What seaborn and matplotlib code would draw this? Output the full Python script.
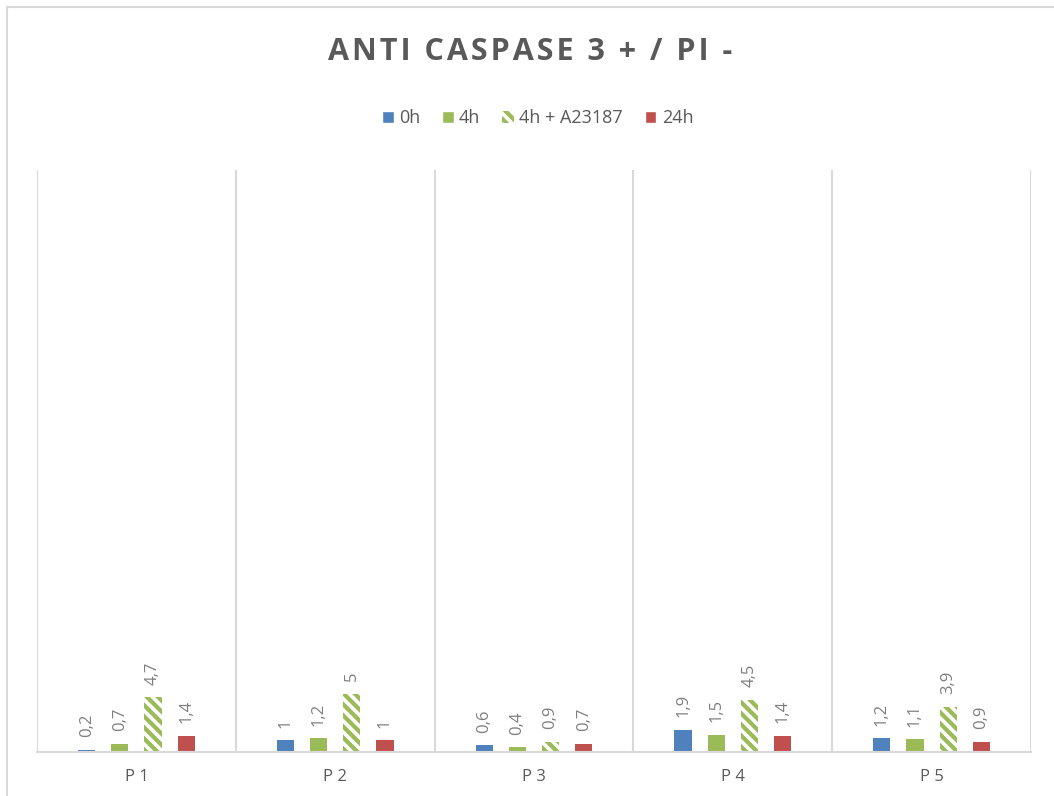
import matplotlib
matplotlib.use("Agg")
import matplotlib.pyplot as plt
import seaborn as sns
import pandas as pd
from matplotlib.patches import Patch, Rectangle

# ── data ─────────────────────────────────────────────────────────────────────
patients = ["P1", "P2", "P3", "P4", "P5"]
series = ["0h", "4h", "4h + A23187", "24h"]
vals_0h = [0.2, 1, 0.6, 1.9, 1.2]
vals_4h = [0.7, 1.2, 0.4, 1.5, 1.1]
vals_4h_a23187 = [4.7, 5, 0.9, 4.5, 3.9]
vals_24h = [1.4, 1, 0.7, 1.4, 0.9]
tick_labels = ["P 1", "P 2", "P 3", "P 4", "P 5"]
title = "ANTI CASPASE 3 + / PI -"

colors = ["#4F81BD", "#9BBB59", "#9BBB59", "#C0504D"]
grey_txt = "#595959"
grey_lbl = "#7F7F7F"
grid_col = "#D9D9D9"

rows = []
for s, vals in zip(series, [vals_0h, vals_4h, vals_4h_a23187, vals_24h]):
    for p, v in zip(patients, vals):
        rows.append({"patient": p, "series": s, "value": v})
df = pd.DataFrame(rows)

# ── plot ─────────────────────────────────────────────────────────────────────
sns.set_style("white")
plt.rcParams["font.family"] = ["Open Sans", "DejaVu Sans"]
plt.rcParams["hatch.linewidth"] = 2.6
plt.rcParams["hatch.color"] = "white"

fig = plt.figure(figsize=(10.54, 7.96), dpi=100)
ax = fig.add_axes([37 / 1054, 44 / 796, 994 / 1054, 582 / 796])

sns.barplot(data=df, x="patient", y="value", hue="series", order=patients,
            hue_order=series, palette=colors, width=0.667, gap=0.48,
            saturation=1, legend=False, ax=ax, linewidth=0)

hatched = ax.containers[2]
for bar in hatched:
    bar.set_hatch("\\\\\\")
    bar.set_edgecolor("white")
    bar.set_linewidth(0)

def fmt(v):
    return (f"{v:g}").replace(".", ",")

for cont, vals in zip(ax.containers, [vals_0h, vals_4h, vals_4h_a23187, vals_24h]):
    ax.bar_label(cont, labels=[fmt(v) for v in vals], rotation=90,
                 padding=9, color=grey_lbl, fontsize=12)

ax.set_ylim(0, 50)
ax.set_xlim(-0.5, 4.5)
ax.set_yticks([])
ax.set_xticks(range(len(patients)))
ax.set_xticklabels(tick_labels, color=grey_txt, fontsize=12)
ax.tick_params(axis="x", length=0, pad=12)
ax.set_xticks([i - 0.5 for i in range(len(patients) + 1)], minor=True)
ax.tick_params(axis="x", which="minor", length=0)
ax.grid(which="minor", axis="x", color=grid_col, linewidth=1.5)
ax.set_axisbelow(True)
ax.set_xlabel("")
ax.set_ylabel("")
for side in ["top", "right", "left"]:
    ax.spines[side].set_visible(False)
ax.spines["bottom"].set_color(grid_col)
ax.spines["bottom"].set_linewidth(1.5)

# title (letter-spaced like the original) and legend
spaced_title = "\u200a".join(title)
fig.text(0.503, 1 - 52 / 796, spaced_title, ha="center",
         va="center", fontsize=22, fontweight="bold", color=grey_txt)

handles = [Patch(facecolor=colors[0], label=series[0]),
           Patch(facecolor=colors[1], label=series[1]),
           Patch(facecolor=colors[2], edgecolor="white", hatch="\\\\\\",
                 linewidth=0, label=series[2]),
           Patch(facecolor=colors[3], label=series[3])]
fig.legend(handles=handles, loc="center", bbox_to_anchor=(0.51, 1 - 118 / 796),
           ncol=4, frameon=False, fontsize=13, labelcolor=grey_txt,
           handlelength=0.65, handleheight=0.65, handletextpad=0.3,
           columnspacing=1.2)

# chart border (only left and top visible in the crop)
fig.patches.append(Rectangle((7 / 1054, -0.1), 1.2, 1.1 - 7 / 796,
                             transform=fig.transFigure, fill=False,
                             edgecolor=grid_col, linewidth=1.5))

fig.savefig("out.png", dpi=100)
